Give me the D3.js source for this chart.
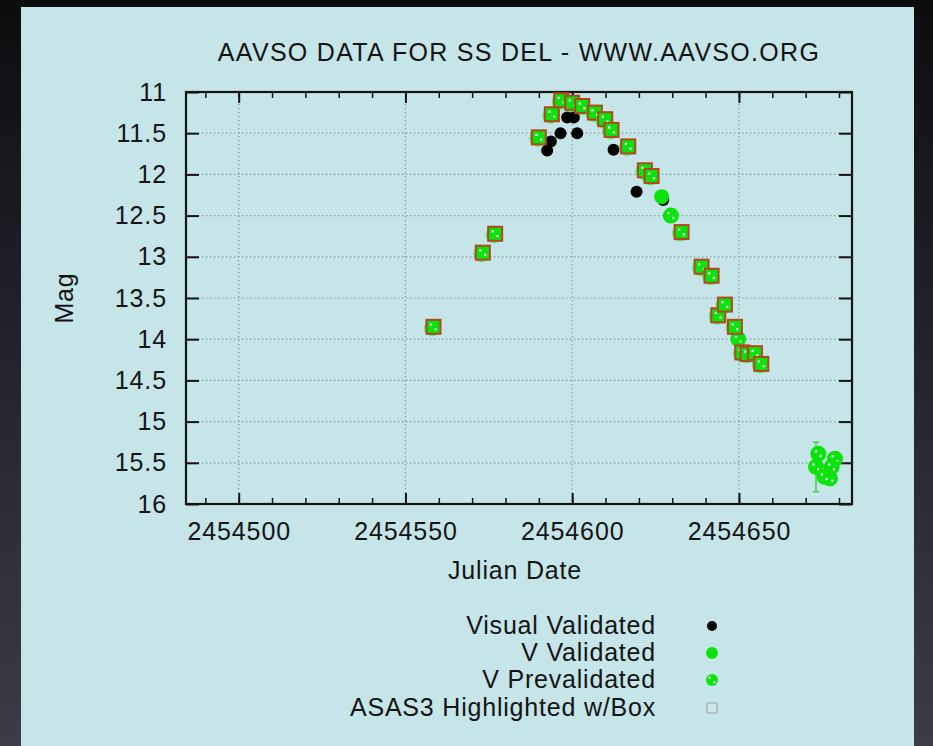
<!DOCTYPE html>
<html>
<head>
<meta charset="utf-8">
<script src="https://cdn.jsdelivr.net/npm/d3@7"></script>
<style>
  html, body { margin: 0; padding: 0; background: #18181c; }
  svg { display: block; }
  text { font-family: "Liberation Sans", Arial, Helvetica, sans-serif; fill: #141414; }
</style>
</head>
<body>
<svg id="chart" width="933" height="746"></svg>
<script>
// ---- light-curve data: Julian Date / visual magnitude ----
const visualJD  = [2454592.5, 2454593.6, 2454596.5, 2454598.5, 2454600.5, 2454601.5, 2454612.4, 2454619.3, 2454627.3];
const visualMag = [11.71, 11.60, 11.50, 11.31, 11.31, 11.50, 11.70, 12.21, 12.31];

const vValidJD  = [2454626.8];
const vValidMag = [12.27];

const vPreJD  = [2454629.6, 2454649.8, 2454673.8, 2454673.1, 2454678.8, 2454676.3, 2454677.3, 2454677.8, 2454675.6];
const vPreMag = [12.50, 14.00, 15.39, 15.55, 15.45, 15.61, 15.69, 15.55, 15.67];
const vPreErr = [0, 0, 0, 0.30, 0, 0, 0, 0, 0];

const asasJD  = [2454558.4, 2454573.2, 2454576.9, 2454590.0, 2454593.9, 2454596.7, 2454600.0, 2454603.0,
                 2454606.8, 2454609.9, 2454611.8, 2454616.8, 2454621.8, 2454623.8, 2454632.8, 2454638.8,
                 2454641.8, 2454643.8, 2454645.8, 2454648.8, 2454651.0, 2454652.6, 2454654.8, 2454656.7];
const asasMag = [13.85, 12.95, 12.72, 11.55, 11.27, 11.10, 11.13, 11.17,
                 11.25, 11.33, 11.46, 11.66, 11.95, 12.02, 12.70, 13.12,
                 13.23, 13.71, 13.58, 13.85, 14.16, 14.18, 14.17, 14.30];

const xMajorTicks = [2454500, 2454550, 2454600, 2454650];
const xMinorTicks = d3.range(2454490, 2454681, 10);
const yTicks = [11, 11.5, 12, 12.5, 13, 13.5, 14, 14.5, 15, 15.5, 16];
const yTickLabels = ["11", "11.5", "12", "12.5", "13", "13.5", "14", "14.5", "15", "15.5", "16"];

const legendLabels = ["Visual Validated", "V Validated", "V Prevalidated", "ASAS3 Highlighted w/Box"];
const titleText = "AAVSO DATA FOR SS DEL - WWW.AAVSO.ORG";

// ---- layout ----
const W = 933, H = 746;
const plot = { left: 186, right: 852, top: 92, bottom: 504 };
const GREEN = "#0ce20c";

const svg = d3.select("#chart");
const defs = svg.append("defs");
const bg = defs.append("linearGradient").attr("id", "frameGrad")
  .attr("x1", 0).attr("y1", 0).attr("x2", 0).attr("y2", 1);
bg.append("stop").attr("offset", "0%").attr("stop-color", "#0d0d10");
bg.append("stop").attr("offset", "100%").attr("stop-color", "#3c3c48");

svg.append("rect").attr("width", W).attr("height", H).attr("fill", "url(#frameGrad)");
svg.append("rect").attr("x", 21).attr("y", 7).attr("width", 893).attr("height", H)
  .attr("fill", "#c5e5e8");

const x = d3.scaleLinear().domain([2454484.2, 2454683.9]).range([plot.left, plot.right]);
const y = d3.scaleLinear().domain([11, 16]).range([plot.top, plot.bottom]);

// ---- grid ----
const grid = svg.append("g").attr("stroke", "#8a9092").attr("stroke-width", 1.2)
  .attr("stroke-dasharray", "1.3,2.7");
grid.selectAll("line.gx").data(xMajorTicks).join("line")
  .attr("x1", d => x(d)).attr("x2", d => x(d))
  .attr("y1", plot.top).attr("y2", plot.bottom);
grid.selectAll("line.gy").data(yTicks.slice(1, -1)).join("line")
  .attr("x1", plot.left).attr("x2", plot.right)
  .attr("y1", d => y(d)).attr("y2", d => y(d));

// ---- axes (ticks point inward, mirrored on all sides) ----
function styleAxis(g, width) {
  g.select(".domain").remove();
  g.selectAll(".tick line").attr("stroke", "#141414").attr("stroke-width", width);
  g.selectAll(".tick text").attr("font-size", 25).attr("letter-spacing", "0.9px").attr("fill", "#141414");
}

svg.append("g").attr("transform", `translate(0,${plot.bottom})`)
  .call(d3.axisBottom(x).tickValues(xMinorTicks).tickSizeInner(-6).tickSizeOuter(0).tickFormat(""))
  .call(g => styleAxis(g, 1.5));
svg.append("g").attr("transform", `translate(0,${plot.top})`)
  .call(d3.axisTop(x).tickValues(xMinorTicks).tickSizeInner(-6).tickSizeOuter(0).tickFormat(""))
  .call(g => styleAxis(g, 1.5));

svg.append("g").attr("transform", `translate(0,${plot.bottom})`)
  .call(d3.axisBottom(x).tickValues(xMajorTicks).tickSizeInner(-11).tickSizeOuter(0)
    .tickPadding(18).tickFormat(d3.format("d")))
  .call(g => styleAxis(g, 2));
svg.append("g").attr("transform", `translate(0,${plot.top})`)
  .call(d3.axisTop(x).tickValues(xMajorTicks).tickSizeInner(-11).tickSizeOuter(0).tickFormat(""))
  .call(g => styleAxis(g, 2));

svg.append("g").attr("transform", `translate(${plot.left},0)`)
  .call(d3.axisLeft(y).tickValues(yTicks).tickSizeInner(-13).tickSizeOuter(0)
    .tickPadding(19).tickFormat((d, i) => yTickLabels[i]))
  .call(g => styleAxis(g, 2));
svg.append("g").attr("transform", `translate(${plot.right},0)`)
  .call(d3.axisRight(y).tickValues(yTicks).tickSizeInner(-13).tickSizeOuter(0).tickFormat(""))
  .call(g => styleAxis(g, 2));

svg.append("rect").attr("x", plot.left).attr("y", plot.top)
  .attr("width", plot.right - plot.left).attr("height", plot.bottom - plot.top)
  .attr("fill", "none").attr("stroke", "#141414").attr("stroke-width", 2.2);

// ---- titles ----
svg.append("text").attr("x", 519).attr("y", 61).attr("text-anchor", "middle")
  .attr("font-size", 25).attr("letter-spacing", "1.3px").text(titleText);
svg.append("text").attr("x", 515).attr("y", 579).attr("text-anchor", "middle")
  .attr("font-size", 25).attr("letter-spacing", "0.8px").text("Julian Date");
svg.append("text").attr("transform", "translate(73,298) rotate(-90)").attr("text-anchor", "middle")
  .attr("font-size", 25).attr("letter-spacing", "0.8px").text("Mag");

// ---- markers ----
const marks = svg.append("g");

function whiteSpecks(g) {
  g.append("rect").attr("x", -3.5).attr("y", -3.5).attr("width", 2.2).attr("height", 2.2).attr("fill", "#eef4ee");
  g.append("rect").attr("x", 1.2).attr("y", 1.2).attr("width", 2.2).attr("height", 2.2).attr("fill", "#eef4ee");
}

// visual validated (black)
marks.append("g").selectAll("circle").data(visualJD).join("circle")
  .attr("cx", d => x(d)).attr("cy", (d, i) => y(visualMag[i])).attr("r", 6).attr("fill", "#000");

// V validated (solid green)
marks.append("g").selectAll("circle").data(vValidJD).join("circle")
  .attr("cx", d => x(d)).attr("cy", (d, i) => y(vValidMag[i])).attr("r", 7.5).attr("fill", GREEN);

// V prevalidated error bars
const errIdx = vPreErr.map((e, i) => i).filter(i => vPreErr[i] > 0);
const eb = marks.append("g").attr("stroke", "#4fc94f").attr("stroke-width", 1.5).attr("fill", "none");
errIdx.forEach(i => {
  const cx = x(vPreJD[i]), y0 = y(vPreMag[i] - vPreErr[i]), y1 = y(vPreMag[i] + vPreErr[i]);
  eb.append("path").attr("d", `M${cx - 3},${y0}H${cx + 3}M${cx},${y0}V${y1}M${cx - 3},${y1}H${cx + 3}`);
});

// V prevalidated (green with white specks)
marks.append("g").selectAll("g").data(vPreJD).join("g")
  .attr("transform", (d, i) => `translate(${x(d)},${y(vPreMag[i])})`)
  .each(function () {
    const g = d3.select(this);
    g.append("circle").attr("r", 8).attr("fill", GREEN);
    whiteSpecks(g);
  });

// ASAS3 observations, highlighted with a box
marks.append("g").selectAll("g").data(asasJD).join("g")
  .attr("transform", (d, i) => `translate(${x(d)},${y(asasMag[i])})`)
  .each(function () {
    const g = d3.select(this);
    g.append("circle").attr("cx", -1).attr("cy", 1).attr("r", 8.5).attr("fill", GREEN).attr("opacity", 0.55);
    g.append("rect").attr("x", -7).attr("y", -7).attr("width", 14).attr("height", 14)
      .attr("fill", GREEN).attr("stroke", "#b4471f").attr("stroke-width", 2);
    whiteSpecks(g);
  });

// ---- legend ----
const legY = [626, 653, 680, 708];
const legend = svg.append("g");
legend.selectAll("text").data(legendLabels).join("text")
  .attr("x", 656).attr("y", (d, i) => legY[i] + 7.5).attr("text-anchor", "end")
  .attr("font-size", 25).attr("letter-spacing", "0.8px").text(d => d);

const lx = 712;
legend.append("circle").attr("cx", lx).attr("cy", legY[0]).attr("r", 5).attr("fill", "#000");
legend.append("circle").attr("cx", lx).attr("cy", legY[1]).attr("r", 6).attr("fill", GREEN);
const lp = legend.append("g").attr("transform", `translate(${lx},${legY[2]})`);
lp.append("circle").attr("r", 6).attr("fill", GREEN);
whiteSpecks(lp);
legend.append("rect").attr("x", lx - 5).attr("y", legY[3] - 5).attr("width", 10).attr("height", 10)
  .attr("rx", 1).attr("fill", "#cfe6e8").attr("stroke", "#9aa4a6").attr("stroke-width", 1.2);
</script>
</body>
</html>
